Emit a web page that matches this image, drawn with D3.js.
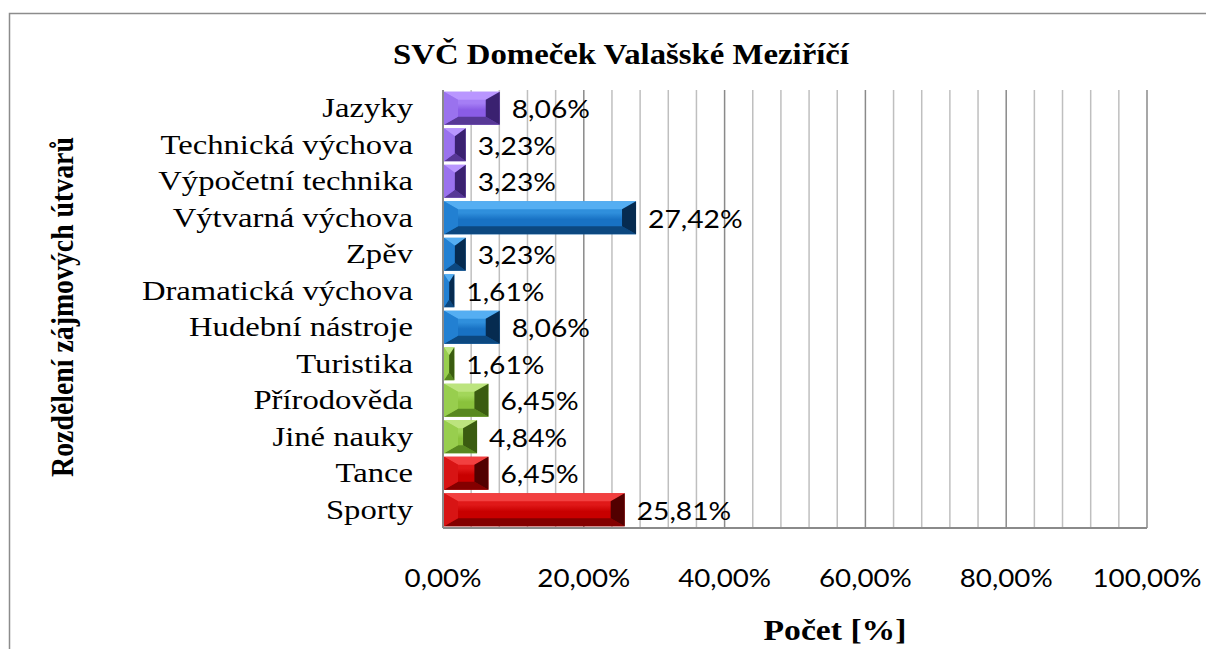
<!doctype html>
<html>
  <head>
    <meta charset="utf-8">
    <title>SVČ Domeček Valašské Meziříčí</title>
    <style type="text/css">
      body{
        margin: 0px;
        background: #ffffff;
      }
      #graph{
        display: block;
      }
    </style>
    <script src="https://d3js.org/d3.v7.min.js"></script>
  </head>
  <body>
    <svg id="graph" width="1206" height="649"></svg>
    <script type="text/javascript">
      // data
      var categories = ["Jazyky", "Technická výchova", "Výpočetní technika", "Výtvarná výchova", "Zpěv", "Dramatická výchova", "Hudební nástroje", "Turistika", "Přírodověda", "Jiné nauky", "Tance", "Sporty"];
      var values = [8.06, 3.23, 3.23, 27.42, 3.23, 1.61, 8.06, 1.61, 6.45, 4.84, 6.45, 25.81];
      var groups = ["fialova", "fialova", "fialova", "modra", "modra", "modra", "modra", "zelena", "zelena", "zelena", "cervena", "cervena"];
      var tickValues = [0, 20, 40, 60, 80, 100];
      var gridValues = d3.range(0, 101, 4);

      var title = "SVČ Domeček Valašské Meziříčí";
      var xTitle = "Počet  [%]";
      var yTitle = "Rozdělení zájmových útvarů";

      // barvy: hlavni, horni hrana, spodni hrana, leva, prava
      var palette = {
        fialova: {main: "#8a5ce6", light: "#a57ef5", top: "#b996ff", bottom: "#573896", left: "#9a72ee", right: "#3a2170"},
        modra:   {main: "#1872c4", light: "#2f8fdc", top: "#55aef2", bottom: "#0c4880", left: "#2280d2", right: "#062b50"},
        zelena:  {main: "#8ac23c", light: "#a2d65a", top: "#bce47e", bottom: "#588820", left: "#98ce4e", right: "#3a5c10"},
        cervena: {main: "#c80000", light: "#e01818", top: "#f24040", bottom: "#840000", left: "#d81414", right: "#520000"}
      };

      var sxCat = 1.21, sxVal = 1.13, sxTick = 1.11; // text je v originale roztazeny do sirky
      var locale = d3.formatLocale({decimal: ",", thousands: " ", grouping: [3], currency: ["", " Kč"]});
      var fmt = locale.format(".2f");

      var svg = d3.select("#graph");
      var defs = svg.append("defs");

      // prechody pro telo sloupcu
      Object.keys(palette).forEach(function(k){
        var col = palette[k];
        var grad = defs.append("linearGradient")
          .attr("id", "grad-" + k)
          .attr("x1", 0).attr("y1", 0).attr("x2", 0).attr("y2", 1);
        grad.append("stop").attr("offset", "0%").attr("stop-color", col.light);
        grad.append("stop").attr("offset", "35%").attr("stop-color", col.light);
        grad.append("stop").attr("offset", "55%").attr("stop-color", col.main);
        grad.append("stop").attr("offset", "100%").attr("stop-color", col.main);
      });

      // ramecek grafu
      svg.append("rect")
        .attr("x", 9.5).attr("y", 13.5)
        .attr("width", 1220).attr("height", 700)
        .attr("fill", "none")
        .attr("stroke", "#8c8c8c")
        .attr("stroke-width", 1.5);

      var plotLeft = 443, plotRight = 1147, plotTop = 90, plotBottom = 528;

      var scaleX = d3.scaleLinear().domain([0, 100]).range([plotLeft, plotRight]);
      var scaleY = d3.scaleBand().domain(categories).range([plotTop, plotBottom]).paddingInner(0.1).paddingOuter(0.05);

      function stretchedText(parent, x, y, txt, anchor, k){
        return parent.append("text")
          .attr("transform", "translate(" + x + "," + y + ") scale(" + k + ",1)")
          .attr("text-anchor", anchor)
          .text(txt);
      }

      // mrizka
      svg.append("g").selectAll("line")
        .data(gridValues)
        .enter().append("line")
        .attr("x1", function(d){ return scaleX(d); })
        .attr("x2", function(d){ return scaleX(d); })
        .attr("y1", plotTop)
        .attr("y2", plotBottom)
        .attr("stroke", function(d){ return d % 20 == 0 ? "#8a8a8a" : "#bfbfbf"; })
        .attr("stroke-width", 1.5);

      // osy
      svg.append("line")
        .attr("x1", plotLeft).attr("x2", plotLeft).attr("y1", plotTop).attr("y2", plotBottom)
        .attr("stroke", "#8a8a8a").attr("stroke-width", 2);
      svg.append("line")
        .attr("x1", plotLeft).attr("x2", plotRight).attr("y1", plotBottom).attr("y2", plotBottom)
        .attr("stroke", "#8a8a8a").attr("stroke-width", 2);

      // sloupce se zkosenou hranou
      var bars = svg.append("g");
      categories.forEach(function(c, i){
        var x0 = scaleX(0) + 1, x1 = scaleX(values[i]);
        var y0 = scaleY(c), y1 = y0 + scaleY.bandwidth();
        var w = x1 - x0, h = y1 - y0;
        var bx = Math.min(14, w / 2), by = Math.min(8, h / 2);
        var col = palette[groups[i]];
        var g = bars.append("g");
        function poly(pts, fill){
          g.append("polygon")
            .attr("points", pts.map(function(p){ return p.join(","); }).join(" "))
            .attr("fill", fill);
        }
        poly([[x0, y0], [x1, y0], [x1, y1], [x0, y1]], "url(#grad-" + groups[i] + ")");
        poly([[x0, y0], [x1, y0], [x1 - bx, y0 + by], [x0 + bx, y0 + by]], col.top);
        poly([[x0, y1], [x1, y1], [x1 - bx, y1 - by], [x0 + bx, y1 - by]], col.bottom);
        poly([[x0, y0], [x0 + bx, y0 + by], [x0 + bx, y1 - by], [x0, y1]], col.left);
        poly([[x1, y0], [x1 - bx, y0 + by], [x1 - bx, y1 - by], [x1, y1]], col.right);
      });

      // popisky kategorii
      var catLabels = svg.append("g")
        .attr("font-family", "'Liberation Serif', 'Times New Roman', serif")
        .attr("font-size", 27)
        .attr("fill", "#000");
      categories.forEach(function(c){
        stretchedText(catLabels, 413, scaleY(c) + scaleY.bandwidth() / 2 + 9, c, "end", sxCat);
      });

      // hodnoty
      var valLabels = svg.append("g")
        .attr("font-family", "Lato, 'Open Sans', sans-serif")
        .attr("font-size", 25)
        .attr("fill", "#000");
      categories.forEach(function(c, i){
        stretchedText(valLabels, scaleX(values[i]) + 12, scaleY(c) + scaleY.bandwidth() / 2 + 10, fmt(values[i]) + "%", "start", sxVal);
      });

      // popisky osy x
      var tickLabels = svg.append("g")
        .attr("font-family", "Lato, 'Open Sans', sans-serif")
        .attr("font-size", 25)
        .attr("fill", "#000");
      tickValues.forEach(function(t){
        stretchedText(tickLabels, scaleX(t), 587, fmt(t) + "%", "middle", sxTick);
      });

      // nadpisy
      var titles = svg.append("g")
        .attr("font-family", "'Liberation Serif', 'Times New Roman', serif")
        .attr("font-weight", "bold")
        .attr("fill", "#000");
      stretchedText(titles, 621, 64, title, "middle", 1.13).attr("font-size", 29);
      stretchedText(titles, 835, 640, xTitle, "middle", 1.16).attr("font-size", 29);
      titles.append("text")
        .attr("font-size", 27)
        .attr("transform", "translate(73,307) rotate(-90) scale(1.03,1.15)")
        .attr("text-anchor", "middle")
        .text(yTitle);
    </script>
  </body>
</html>
